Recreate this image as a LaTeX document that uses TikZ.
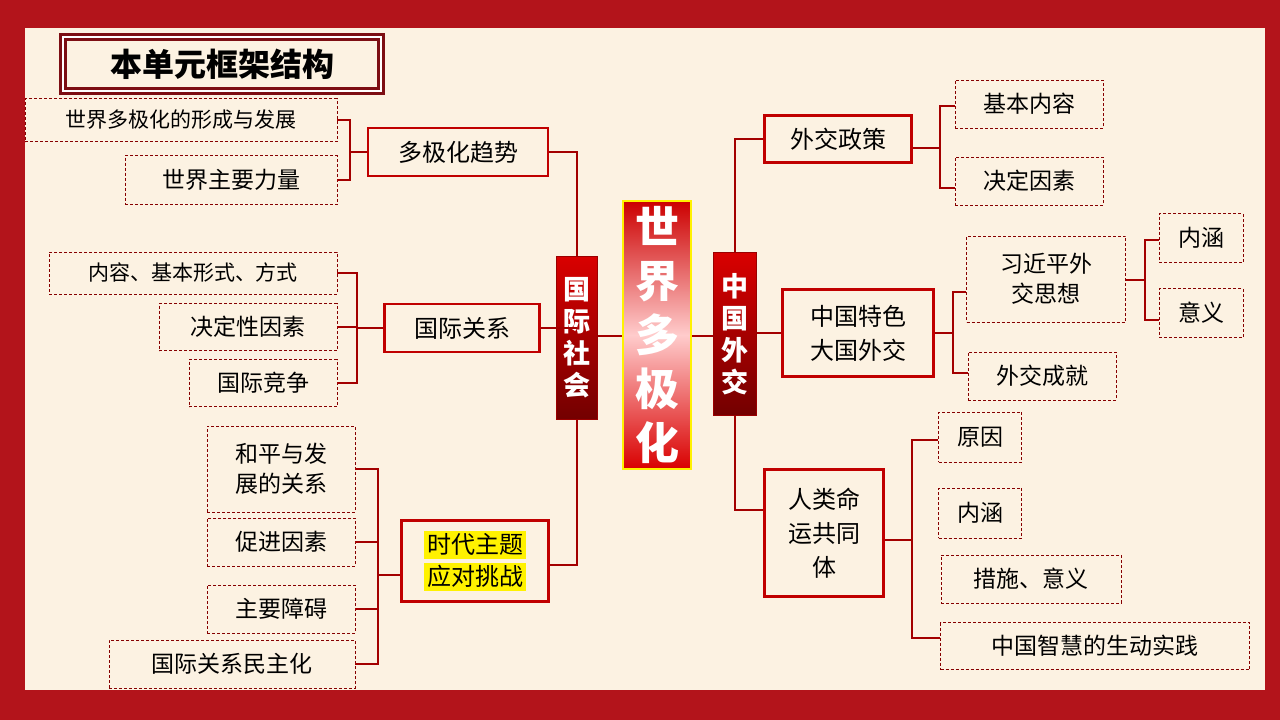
\documentclass[tikz,border=0pt]{standalone}
\usepackage{fontspec}
\setmainfont{Noto Sans CJK SC}
\usetikzlibrary{positioning,calc,shadings}
\definecolor{frameR}{HTML}{B3141B}
\definecolor{paper}{HTML}{FCF2E2}
\definecolor{lineR}{HTML}{C00000}
\tikzset{
  leaf/.style={draw=lineR!70!black, densely dashed, line width=0.6pt, fill=paper, font=\fontsize{23}{30}\selectfont, inner sep=2pt, align=center},
  hub/.style={draw=lineR, line width=2.5pt, fill=paper, font=\fontsize{24}{34}\selectfont, inner sep=2pt, align=center},
  trunk/.style={draw=lineR!80!black, line width=1pt, top color=red!85!black, bottom color=red!45!black, text=white, font=\bfseries\fontsize{27}{32}\selectfont, align=center, inner sep=1pt},
  link/.style={lineR!85!black, line width=2pt}
}
\begin{document}
\begin{tikzpicture}[x=1pt,y=-1pt]
    % Background
    \useasboundingbox (0,0) rectangle (1280,720);
    \fill[frameR] (0,0) rectangle (1280,720);
    \fill[paper] (25,28) rectangle (1265,690);

    % Title
    \node[draw=frameR!70!black, line width=3pt, double=white, double distance=1.5pt, fill=paper, minimum width=318, minimum height=54, font=\bfseries\fontsize{32}{36}\selectfont] (title) at (222,64) {本单元框架结构};

    % Center
    \node[draw=yellow, line width=2.5pt, top color=red!80!black, bottom color=red!85!black, middle color=red!20, minimum width=68, minimum height=268, text=white, font=\bfseries\fontsize{44}{54}\selectfont, align=center] (world) at (657,335) {世\\界\\多\\极\\化};
    \node[trunk, minimum width=41, minimum height=163] (intl) at (577,338) {国\\际\\社\\会};
    \node[trunk, minimum width=43, minimum height=163] (china) at (735,334) {中\\国\\外\\交};

    % Left hubs
    \node[hub, minimum width=180, minimum height=48] (multi) at (458,152) {多极化趋势};
    \node[hub, minimum width=155, minimum height=48] (rel) at (462,328) {国际关系};
    \node[hub, minimum width=147, minimum height=81, font=\fontsize{24}{34}\selectfont] (era) at (475,561) {\colorbox{yellow}{时代主题}\\[-2pt]\colorbox{yellow}{应对挑战}};

    % Left leaves
    \node[leaf, minimum width=312, minimum height=43, font=\fontsize{21}{26}\selectfont] (form) at (181,120) {世界多极化的形成与发展};
    \node[leaf, minimum width=212, minimum height=49] (power) at (231,180) {世界主要力量};
    \node[leaf, minimum width=288, minimum height=42, font=\fontsize{21}{26}\selectfont] (content) at (193,273) {内容、基本形式、方式};
    \node[leaf, minimum width=178, minimum height=47] (decide) at (248,327) {决定性因素};
    \node[leaf, minimum width=148, minimum height=47] (compete) at (263,383) {国际竞争};
    \node[leaf, minimum width=148, minimum height=86] (peace) at (281,469) {和平与发\\展的关系};
    \node[leaf, minimum width=148, minimum height=48] (promote) at (281,542) {促进因素};
    \node[leaf, minimum width=148, minimum height=48] (block) at (281,609) {主要障碍};
    \node[leaf, minimum width=246, minimum height=48] (democ) at (232,664) {国际关系民主化};

    % Right hubs
    \node[hub, minimum width=147, minimum height=47] (policy) at (838,139) {外交政策};
    \node[hub, minimum width=151, minimum height=87] (great) at (858,333) {中国特色\\大国外交};
    \node[hub, minimum width=119, minimum height=127] (fate) at (824,533) {人类命\\运共同\\体};

    % Right leaves
    \node[leaf, minimum width=148, minimum height=48] (basic) at (1029,104) {基本内容};
    \node[leaf, minimum width=148, minimum height=48] (factor) at (1029,181) {决定因素};
    \node[leaf, minimum width=159, minimum height=86] (xi) at (1046,279) {习近平外\\交思想};
    \node[leaf, minimum width=148, minimum height=48] (achieve) at (1042,376) {外交成就};
    \node[leaf, minimum width=84, minimum height=49] (meanA) at (1201,238) {内涵};
    \node[leaf, minimum width=84, minimum height=49] (signA) at (1201,313) {意义};
    \node[leaf, minimum width=83, minimum height=50] (cause) at (980,437) {原因};
    \node[leaf, minimum width=83, minimum height=50] (meanB) at (980,513) {内涵};
    \node[leaf, minimum width=180, minimum height=48] (measure) at (1031,579) {措施、意义};
    \node[leaf, minimum width=309, minimum height=47] (wisdom) at (1095,646) {中国智慧的生动实践};

    % Trunk links
    \begin{scope}[on background layer/.try]
    \end{scope}
    \draw[link] (intl.east |- 0,336) -- (world.west |- 0,336);
    \draw[link] (world.east |- 0,336) -- (china.west |- 0,336);
    \draw[link] (multi.east) -| (intl.north);
    \draw[link] (rel.east) -- (rel.east -| intl.north);
    \draw[link] (era.east |- 0,565) -| (intl.south);
    \draw[link] (policy.west) -| (china.north);
    \draw[link] (fate.west |- 0,510) -| (china.south);
    \draw[link] (china.east |- great.west) -- (great.west);

    % Left brackets
    \coordinate (bA) at (350,152);
    \draw[link] (form.east) -| (bA) |- (power.east);
    \draw[link] (bA) -- (multi.west);
    \coordinate (bB) at (357,328);
    \draw[link] (content.east) -| (bB) |- (compete.east);
    \draw[link] (decide.east) -- (bB |- decide.east);
    \draw[link] (bB) -- (rel.west);
    \coordinate (bC) at (378,575);
    \draw[link] (peace.east) -| (bC) |- (democ.east);
    \draw[link] (promote.east) -- (bC |- promote.east);
    \draw[link] (block.east) -- (bC |- block.east);
    \draw[link] (bC) -- (era.west |- bC);

    % Right brackets
    \coordinate (bD) at (940,148);
    \draw[link] (basic.west |- 0,106) -| (bD) |- (factor.west |- 0,188);
    \draw[link] (policy.east |- bD) -- (bD);
    \coordinate (bE) at (953,333);
    \draw[link] (xi.west |- 0,292) -| (bE) |- (achieve.west |- 0,373);
    \draw[link] (great.east) -- (bE);
    \coordinate (bF) at (1145,280);
    \draw[link] (meanA.west |- 0,240) -| (bF) |- (signA.west |- 0,320);
    \draw[link] (xi.east |- bF) -- (bF);
    \coordinate (bG) at (912,540);
    \draw[link] (cause.west |- 0,440) -| (bG) |- (wisdom.west |- 0,638);
    \draw[link] (fate.east |- bG) -- (bG);
\end{tikzpicture}
\end{document}
